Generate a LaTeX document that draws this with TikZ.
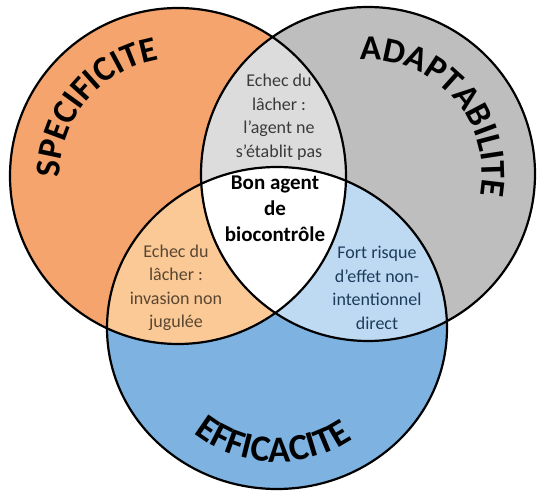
\documentclass[tikz,border=0pt]{standalone}
\usepackage{fontspec}
\setmainfont{Carlito}
\usetikzlibrary{decorations.text}
\definecolor{orangeC}{HTML}{F4A46C}
\definecolor{lightorangeC}{HTML}{FAC996}
\definecolor{grayC}{HTML}{BEBEBE}
\definecolor{lightgrayC}{HTML}{DCDCDC}
\definecolor{blueC}{HTML}{7DB2E1}
\definecolor{lightblueC}{HTML}{BEDAF3}
\definecolor{txtGray}{HTML}{3A3A3A}
\definecolor{txtBrown}{HTML}{5A4632}
\definecolor{txtBlue}{HTML}{1F3B5C}
\newcommand{\titlefnt}{\fontsize{35}{35}\selectfont\bfseries}
\newcommand{\titlefntb}{\fontsize{37}{37}\selectfont\bfseries}
\begin{document}
\begin{tikzpicture}[x=1pt,y=1pt,
  regiontext/.style={align=center, font=\fontsize{18}{23.5}\selectfont, inner sep=0pt},
  centertext/.style={align=center, font=\fontsize{21}{26}\selectfont\bfseries, inner sep=0pt},
  outline/.style={draw=black, line width=2.2pt},
  titlepath/.style={decorate, decoration={text along path, text align=center, text={|\titlefnt|#1}}},
  titlepathb/.style={decorate, decoration={text along path, text align=center, text={|\titlefntb|#1}}}
]
\useasboundingbox (0,0) rectangle (540,495);
\coordinate (L) at (178,319);
\coordinate (R) at (368,321);
\coordinate (B) at (277,167);
\def\Lcirc{(L) circle [radius=168pt]}
\def\Rcirc{(R) circle [radius=167pt]}
\def\Bcirc{(B) ellipse [x radius=170pt, y radius=161pt]}
% base fills
\fill[orangeC] \Lcirc;
\fill[grayC] \Rcirc;
\fill[blueC] \Bcirc;
% pairwise intersections
\begin{scope}\clip \Lcirc; \fill[lightgrayC] \Rcirc; \end{scope}
\begin{scope}\clip \Lcirc; \fill[lightorangeC] \Bcirc; \end{scope}
\begin{scope}\clip \Rcirc; \fill[lightblueC] \Bcirc; \end{scope}
\begin{scope}\clip \Lcirc; \clip \Rcirc; \fill[white] \Bcirc; \end{scope}
% outlines
\draw[outline] \Lcirc;
\draw[outline] \Rcirc;
\draw[outline] \Bcirc;
% titles along arcs
\path[titlepath=SPECIFICITE] (L) ++(205:118pt) arc[start angle=205, end angle=75, radius=118pt];
\path[titlepath=ADAPTABILITE] (R) ++(106:114pt) arc[start angle=106, end angle=-23, radius=114pt];
\path[titlepathb=EFFICACITE] (B) ++(220:134pt) arc[start angle=220, end angle=316, radius=134pt];
% region texts
\node[regiontext, text=txtGray] (top) at (279,378) {Echec du\\lâcher :\\l’agent ne\\s’établit pas};
\node[centertext, text=black] (mid) at (275,286) {Bon agent\\de\\biocontrôle};
\node[regiontext, text=txtBrown] (lft) at (176,207) {Echec du\\lâcher :\\invasion non\\jugulée};
\node[regiontext, text=txtBlue] (rgt) at (377,207) {Fort risque\\d’effet non-\\intentionnel\\direct};
\end{tikzpicture}
\end{document}
